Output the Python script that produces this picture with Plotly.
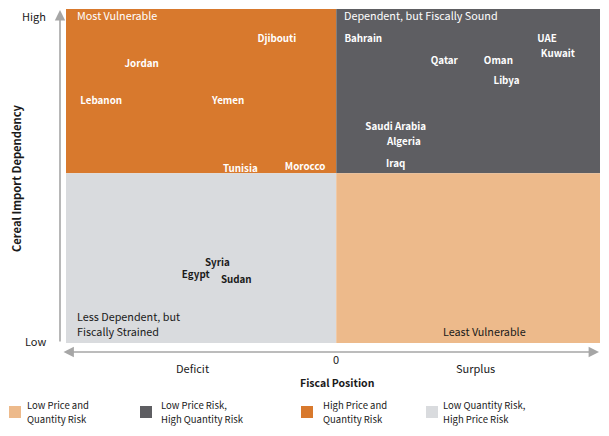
import plotly.graph_objects as go

# ---- data ----
countries = ["Djibouti", "Jordan", "Lebanon", "Yemen", "Tunisia", "Morocco",
             "Bahrain", "Qatar", "Oman", "Libya", "UAE", "Kuwait",
             "Saudi Arabia", "Algeria", "Iraq", "Syria", "Egypt", "Sudan"]
fiscal_position = [-0.22, -0.72, -0.87, -0.40, -0.355, -0.115,
                   0.10, 0.40, 0.60, 0.63, 0.78, 0.82,
                   0.22, 0.25, 0.22, -0.44, -0.52, -0.37]
import_dependency = [0.79, 0.64, 0.42, 0.42, 0.02, 0.035,
                     0.79, 0.66, 0.66, 0.54, 0.79, 0.70,
                     0.27, 0.18, 0.05, -0.53, -0.60, -0.63]
label_colors = ["white"] * 15 + ["#1a1a1a"] * 3

quad_names = ["Most Vulnerable", "Dependent, but Fiscally Sound",
              "Less Dependent, but<br>Fiscally Strained", "Least Vulnerable"]
quad_colors = ["#D8792D", "#5E5E62", "#D9DBDE", "#EDBA8B"]
quad_text_colors = ["white", "white", "#1a1a1a", "#1a1a1a"]

legend_line1 = ["Low Price and", "Low Price Risk,", "High Price and", "Low Quantity Risk,"]
legend_line2 = ["Quantity Risk", "High Quantity Risk", "Quantity Risk", "High Price Risk"]
legend_colors = ["#EDBA8B", "#5E5E62", "#D8792D", "#D9DBDE"]

# ---- geometry: page pixels (page has 8px body margin) ----
OFF = 8
FW, FH = 609 - 2 * OFF, 436 - 2 * OFF
X0, X1, Y0, Y1 = 66, 600, 9, 343          # plot area in page pixels
XMIN, XMAX = -1.0, (X1 - 336) / 270.5       # data range (0 at page x 336)
YMIN, YMAX = -1.0, (173 - Y0) / 169.5       # data range (0 at page y 173)

def PX(p):
    return (p - X0) / (X1 - X0)

def PY(p):
    return (Y1 - p) / (Y1 - Y0)

FONT = "Noto Sans CJK SC, Noto Sans, sans-serif"

quad_x = [(XMIN, 0), (0, XMAX), (XMIN, 0), (0, XMAX)]
quad_y = [(0, YMAX), (0, YMAX), (YMIN, 0), (YMIN, 0)]

fig = go.Figure()

shapes = []
for (x0, x1), (y0, y1), c in zip(quad_x, quad_y, quad_colors):
    shapes.append(dict(type="rect", xref="x", yref="y", x0=x0, x1=x1, y0=y0, y1=y1,
                       fillcolor=c, line=dict(width=0), layer="below"))

fig.add_trace(go.Scatter(
    x=fiscal_position, y=import_dependency, text=countries, mode="text",
    textfont=dict(family=FONT, size=9.8, color=label_colors, weight="bold"),
    hoverinfo="skip", showlegend=False, cliponaxis=False))

annotations = []
quad_pos = [(-0.965, 0.935, "left"), (0.022, 0.935, "left"),
            (-0.965, -0.885, "left"), (0.547, -0.932, "center")]
LINE_STEP = 15 / 169.5   # 15 px between wrapped lines, in data units
for name, (x, y, xa), tc in zip(quad_names, quad_pos, quad_text_colors):
    lines = name.split("<br>")
    top = y + (len(lines) - 1) * LINE_STEP / 2
    for i, ln in enumerate(lines):
        annotations.append(dict(x=x, y=top - i * LINE_STEP, xref="x", yref="y", text=ln,
                                showarrow=False, xanchor=xa, yanchor="middle",
                                font=dict(family=FONT, size=10.8, color=tc)))

# axis arrows
annotations.append(dict(x=PX(60), y=PY(10), xref="paper", yref="paper", text="",
                        showarrow=True, ax=0, ay=333, axref="pixel", ayref="pixel",
                        arrowhead=2, arrowsize=1.3, arrowwidth=1.6, arrowcolor="#a6a6a6"))
annotations.append(dict(x=PX(599), y=PY(352), xref="paper", yref="paper", text="",
                        showarrow=True, ax=-537, ay=0, axref="pixel", ayref="pixel",
                        arrowside="end+start",
                        arrowhead=2, arrowsize=1.3, arrowwidth=1.6, arrowcolor="#a6a6a6"))

def txt(x, y, s, size=11, bold=False, xa="center", angle=0):
    annotations.append(dict(x=PX(x), y=PY(y), xref="paper", yref="paper", text=s,
                            showarrow=False, xanchor=xa, yanchor="middle", textangle=angle,
                            font=dict(family=FONT, size=size, color="#1a1a1a",
                                      weight="bold" if bold else "normal")))

txt(48, 16, "High", xa="right")
txt(48, 341, "Low", xa="right")
txt(336, 359, "0")
txt(192, 368, "Deficit")
txt(475, 368, "Surplus")
txt(337, 382, "Fiscal Position", size=10.5, bold=True)
txt(16, 178, "Cereal Import Dependency", size=11.2, bold=True, angle=-90)

# legend
leg_sq_x = [9, 140, 301, 426]
leg_tx_x = [25, 159, 321, 441]
for sx, tx, l1, l2, c in zip(leg_sq_x, leg_tx_x, legend_line1, legend_line2, legend_colors):
    shapes.append(dict(type="rect", xref="paper", yref="paper",
                       x0=PX(sx), x1=PX(sx + 12), y0=PY(418), y1=PY(406),
                       fillcolor=c, line=dict(width=0)))
    for ly, s in ((405, l1), (419, l2)):
        annotations.append(dict(x=PX(tx), y=PY(ly), xref="paper", yref="paper", text=s,
                                showarrow=False, xanchor="left", yanchor="middle",
                                font=dict(family=FONT, size=9.5, color="#1a1a1a")))

fig.update_layout(
    width=FW, height=FH,
    margin=dict(l=X0 - OFF, r=(OFF + FW) - X1, t=Y0 - OFF, b=(OFF + FH) - Y1),
    paper_bgcolor="white", plot_bgcolor="white",
    xaxis=dict(range=[XMIN, XMAX], visible=False, fixedrange=True),
    yaxis=dict(range=[YMIN, YMAX], visible=False, fixedrange=True),
    shapes=shapes, annotations=annotations,
    showlegend=False,
)

fig.write_html("out.html")
